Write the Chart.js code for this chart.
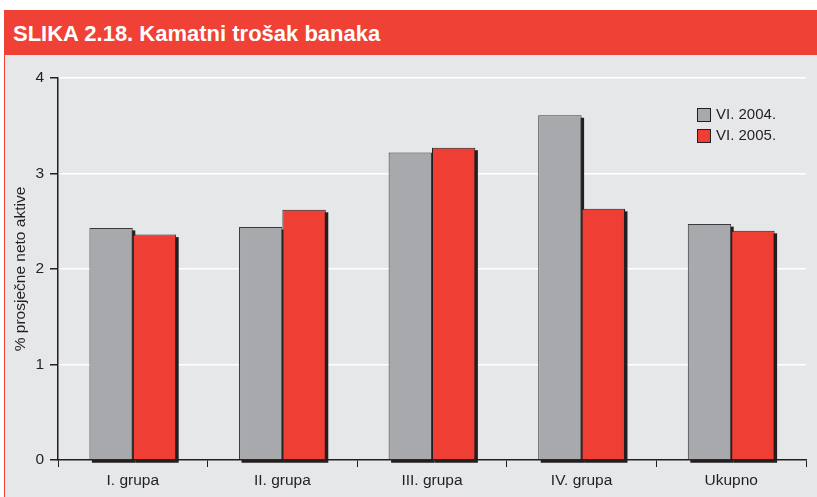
<!DOCTYPE html>
<html>
<head>
<meta charset="utf-8">
<script src="https://cdn.jsdelivr.net/npm/chart.js@4/dist/chart.umd.min.js"></script>
<style>
  html, body { margin: 0; padding: 0; background: #ffffff; width: 817px; height: 497px; overflow: hidden; }
  #header { position: absolute; left: 4px; top: 10px; width: 813px; height: 45px; background: #EF4136; }
  #header span { position: absolute; left: 9px; top: 13px; line-height: 22px; color: #ffffff; font-family: "Liberation Sans", Arial, sans-serif; font-weight: bold; font-size: 22px; white-space: nowrap; }
  #panel { position: absolute; left: 4px; top: 55px; width: 813px; height: 442px; background: #E6E7E8; border-left: 1px solid #EF4136; box-sizing: border-box; }
  #wrap { position: absolute; left: 5px; top: 55px; width: 812px; height: 442px; }
  #legend { position: absolute; left: 697px; top: 107px; font: 15px "Liberation Sans", Arial, sans-serif; color: #231F20; }
  .li { position: relative; height: 21px; }
  .sw { position: absolute; left: 0; top: 1px; width: 12px; height: 12px; border: 1px solid #231F20; }
  .lt { position: absolute; left: 19px; top: -2px; white-space: nowrap; }
</style>
</head>
<body>
<div id="header"><span>SLIKA 2.18. Kamatni trošak banaka</span></div>
<div id="panel"></div>
<div id="wrap"><canvas id="c" width="812" height="442"></canvas></div>
<div id="legend"></div>
<script>
const categories = ["I. grupa", "II. grupa", "III. grupa", "IV. grupa", "Ukupno"];
const seriesNames = ["VI. 2004.", "VI. 2005."];
const values2004 = [2.43, 2.44, 3.22, 3.61, 2.47];
const values2005 = [2.36, 2.62, 3.27, 2.63, 2.40];
const yTicks = [0, 1, 2, 3, 4];
const colors = ["#A7A9AC", "#EF3E33"];

// legend (HTML)
const leg = document.getElementById('legend');
seriesNames.forEach((n, i) => {
  const d = document.createElement('div');
  d.className = 'li';
  d.innerHTML = '<div class="sw" style="background:' + colors[i] + '"></div><div class="lt">' + n + '</div>';
  leg.appendChild(d);
});

const shadowPlugin = {
  id: 'barShadow',
  beforeDatasetsDraw(chart) {
    const ctx = chart.ctx;
    ctx.save();
    ctx.fillStyle = '#231F20';
    chart.data.datasets.forEach((ds, di) => {
      const meta = chart.getDatasetMeta(di);
      meta.data.forEach(bar => {
        const p = bar.getProps(['x', 'y', 'base', 'width'], true);
        const l = p.x - p.width / 2;
        ctx.fillRect(l + 2.5, p.y + 2.5, p.width, p.base - p.y + 1);
      });
    });
    ctx.restore();
  }
};

new Chart(document.getElementById('c'), {
  type: 'bar',
  data: {
    labels: categories,
    datasets: [
      { label: seriesNames[0], data: values2004, backgroundColor: colors[0], borderColor: '#3a3a3c', borderWidth: 1, barPercentage: 1.0, categoryPercentage: 0.58 },
      { label: seriesNames[1], data: values2005, backgroundColor: colors[1], borderColor: '#231F20', borderWidth: 1, barPercentage: 1.0, categoryPercentage: 0.58 }
    ]
  },
  options: {
    responsive: false,
    animation: false,
    layout: { padding: { left: 0, right: 11, top: 23, bottom: 0 } },
    plugins: { legend: { display: false }, tooltip: { enabled: false } },
    scales: {
      x: {
        grid: { drawOnChartArea: false, offset: true, tickLength: 7, tickColor: '#231F20', lineWidth: 1 },
        border: { color: '#231F20', width: 1.5 },
        ticks: { color: '#231F20', font: { family: 'Liberation Sans', size: 15.5 }, padding: 4 },
        afterFit(s) { s.height = 37; }
      },
      y: {
        min: 0, max: 4,
        afterBuildTicks(s) { s.ticks = yTicks.map(v => ({ value: v })); },
        grid: {
          color: ctx => (ctx.tick && ctx.tick.value === 0) ? 'rgba(0,0,0,0)' : '#ffffff',
          lineWidth: 1.5, tickLength: 8, tickColor: '#231F20'
        },
        border: { color: '#231F20', width: 1.5 },
        ticks: { color: '#231F20', font: { family: 'Liberation Sans', size: 15.5 }, padding: 6 },
        title: { display: true, text: '% prosječne neto aktive', color: '#231F20', font: { family: 'Liberation Sans', size: 15.5 }, padding: { top: 6, bottom: 0 } },
        afterFit(s) { s.width = 53; }
      }
    }
  },
  plugins: [shadowPlugin]
});
</script>
</body>
</html>
